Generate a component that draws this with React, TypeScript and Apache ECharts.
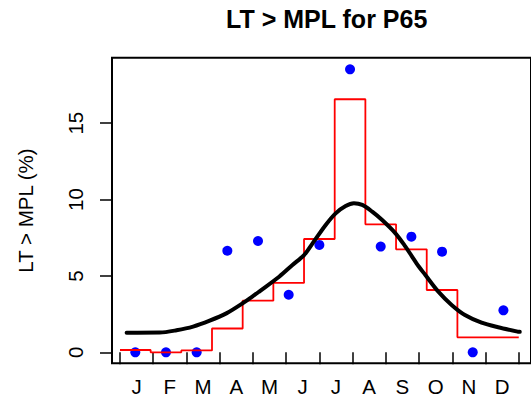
import React, { useEffect, useRef } from "react";
import * as echarts from "echarts";

const monthLabels = ["J", "F", "M", "A", "M", "J", "J", "A", "S", "O", "N", "D"];
const yTickValues = [0, 5, 10, 15];
// observed percentage per 4-week period (13 periods spanning the year)
const observedPct = [0, 0, 0, 6.65, 7.29, 3.77, 7.03, 18.53, 6.92, 7.57, 6.59, 0, 2.75];
// modelled (step) percentage per period
const modelPct = [0.15, 0, 0.12, 1.56, 3.38, 4.54, 7.42, 16.57, 8.38, 6.74, 4.08, 0.98, 0.98];
// smoothed seasonal fit (x in month units)
const fitX = [0.7, 1.7, 2.2, 2.7, 3.2, 3.7, 4.19, 4.59, 4.69, 5.29, 5.69, 6.04, 6.29, 6.69, 6.99, 7.29, 7.54, 7.79, 8.09, 8.39, 8.79, 9.09, 9.28, 9.48, 9.69, 10.08, 10.48, 10.88, 11.38, 11.88, 12.48, 12.53];
const fitY = [1.28, 1.29, 1.44, 1.68, 2.07, 2.55, 3.21, 3.82, 3.98, 4.95, 5.72, 6.37, 7.12, 8.34, 9.1, 9.58, 9.76, 9.65, 9.21, 8.66, 7.79, 6.92, 6.3, 5.65, 5.06, 3.97, 3.1, 2.44, 1.94, 1.64, 1.35, 1.34];

const FONT = "'Liberation Sans', Arial, sans-serif";

export default function App() {
  const ref = useRef<HTMLDivElement>(null);
  useEffect(() => {
    if (!ref.current) return;
    const chart = echarts.init(ref.current, undefined, { renderer: "svg" });
    const nP = observedPct.length;
    const start = 0.5;
    const span = monthLabels.length;
    const binW = span / nP;
    const pointData = observedPct.map((v, i) => [start + (i + 0.5) * binW, v]);
    const stepData = modelPct.map((v, i) => [start + i * binW, v]);
    stepData.push([start + nP * binW, modelPct[nP - 1]]);
    const fitData = fitX.map((x, i) => [x, fitY[i]]);
    const tickPos = Array.from({ length: span + 1 }, (_, i) => start + i);
    const labelPos = monthLabels.map((_, i) => i + 1);

    chart.setOption({
      animation: false,
      backgroundColor: "#fff",
      title: {
        text: "LT > MPL for P65",
        left: 321.7,
        textAlign: "center",
        top: 1,
        textStyle: { fontFamily: FONT, fontWeight: "bold", fontSize: 25, color: "#000" },
      },
      grid: {
        left: 112,
        top: 57.7,
        width: 421,
        height: 305.6,
        show: true,
        borderColor: "#000",
        borderWidth: 2,
        backgroundColor: "transparent",
      },
      xAxis: {
        type: "value",
        min: 0.26,
        max: 0.26 + 421 / 33.39,
        axisLine: { show: false },
        splitLine: { show: false },
        axisTick: {
          show: true,
          customValues: tickPos,
          length: 12,
          lineStyle: { color: "#000", width: 1.5 },
        },
        axisLabel: {
          show: true,
          customValues: labelPos,
          formatter: (v: number) => monthLabels[Math.round(v) - 1] ?? "",
          margin: 13,
          fontFamily: FONT,
          fontSize: 20.5,
          color: "#000",
        },
      },
      yAxis: {
        type: "value",
        min: -0.72,
        max: 19.29,
        name: "LT > MPL (%)",
        nameLocation: "middle",
        nameRotate: 90,
        nameGap: 76,
        nameTextStyle: { fontFamily: FONT, fontSize: 20.5, color: "#000" },
        axisLine: { show: false },
        splitLine: { show: false },
        axisTick: {
          show: true,
          customValues: yTickValues,
          length: 12,
          lineStyle: { color: "#000", width: 1.5 },
        },
        axisLabel: {
          show: true,
          customValues: yTickValues,
          rotate: 90,
          margin: 26,
          fontFamily: FONT,
          fontSize: 20.5,
          color: "#000",
        },
      },
      series: [
        {
          type: "scatter",
          data: pointData,
          symbol: "circle",
          symbolSize: 10,
          itemStyle: { color: "#0000FF", opacity: 1 },
          z: 2,
        },
        {
          type: "line",
          data: stepData,
          step: "end",
          symbol: "none",
          lineStyle: { color: "#FF0000", width: 1.8 },
          z: 3,
        },
        {
          type: "line",
          data: fitData,
          smooth: 0.3,
          symbol: "none",
          lineStyle: { color: "#000", width: 4, cap: "round", join: "round" },
          z: 4,
        },
      ],
    });
    return () => chart.dispose();
  }, []);
  return (
    <div
      ref={ref}
      style={{ position: "fixed", left: 0, top: 0, width: 531, height: 405, background: "#fff" }}
    />
  );
}
